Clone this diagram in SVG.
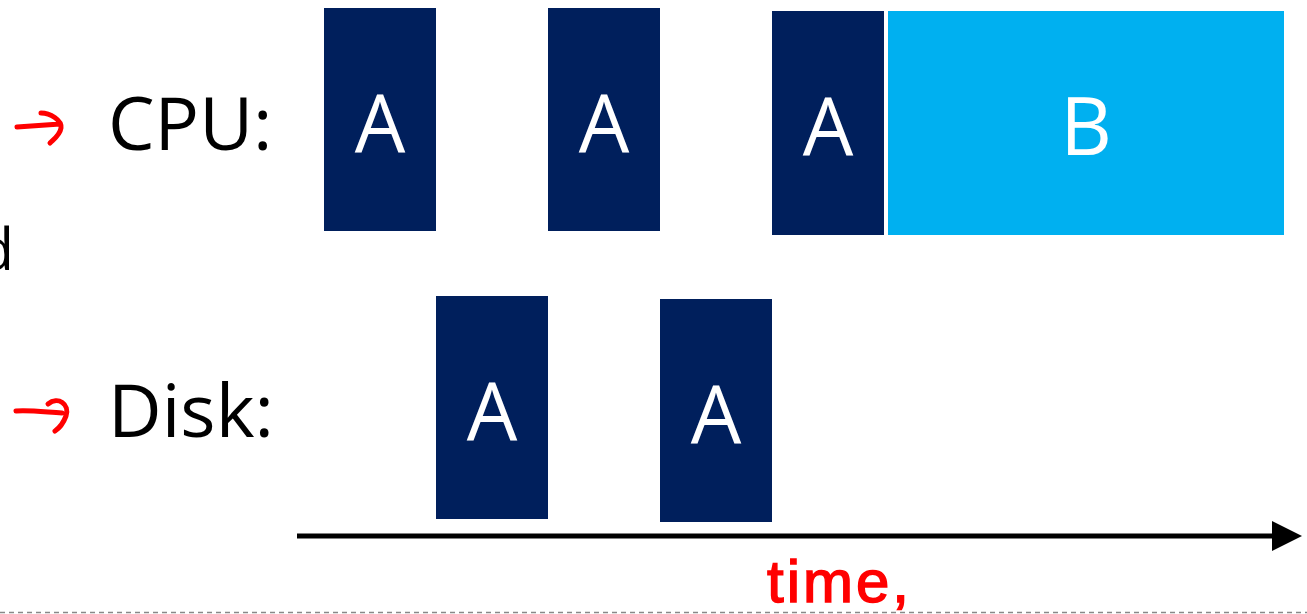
<svg xmlns="http://www.w3.org/2000/svg" width="1307" height="614" viewBox="0 0 1307 614">
<style>
.lbl{font-family:"Open Sans","Liberation Sans",sans-serif;font-size:74px;fill:#000}
.dark{fill:#001f5c}
.light{fill:#00b0f0}
.w{font-family:"Open Sans","Liberation Sans",sans-serif;font-size:80px;fill:#fff;text-anchor:middle}
.ink{fill:none;stroke:#ff0000;stroke-width:5;stroke-linecap:round;stroke-linejoin:round}
</style>
<defs>
<marker id="ah" markerWidth="6" markerHeight="6" refX="0" refY="3" orient="auto" markerUnits="strokeWidth"><path d="M0,0 L6,3 L0,6 Z" fill="#000"/></marker>
</defs>
<rect width="1307" height="614" fill="#fff"/>
<text x="14" y="270" text-anchor="end" font-family="'Open Sans','Liberation Sans',sans-serif" font-size="58" fill="#000">d</text>
<g id="label-cpu"><text class="lbl" x="108" y="150">CPU:</text></g>
<g id="label-disk"><text class="lbl" x="108" y="437">Disk:</text></g>
<g id="cpu-a1"><rect class="dark" x="324" y="8" width="112" height="223"/><text class="w" x="380" y="152">A</text></g>
<g id="cpu-a2"><rect class="dark" x="548" y="8" width="112" height="223"/><text class="w" x="604" y="152">A</text></g>
<g id="cpu-a3"><rect class="dark" x="772" y="11" width="112" height="224"/><text class="w" x="828" y="155">A</text></g>
<g id="cpu-b"><rect class="light" x="888" y="11" width="396" height="224"/><text class="w" x="1086" y="155">B</text></g>
<g id="disk-a1"><rect class="dark" x="436" y="296" width="112" height="223"/><text class="w" x="492" y="440">A</text></g>
<g id="disk-a2"><rect class="dark" x="660" y="299" width="112" height="223"/><text class="w" x="716" y="443">A</text></g>
<g id="connectors">
<line x1="297" y1="536" x2="1272" y2="536" stroke="#000" stroke-width="5" marker-end="url(#ah)"/>
</g>
<g id="ink">
<path class="ink" d="M17,127 C30,126 45,125 60,124 M41,113 C50,113 62,120 61,128 C60,135 54,139 50,143"/>
<path class="ink" d="M16,411 C30,410 45,412 62,413 M48,404 C58,396 70,404 66,416 C63,424 58,429 55,431"/>
<text x="767" y="602" font-family="'Liberation Sans',sans-serif" font-size="60" fill="#ff0000" stroke="#ff0000" stroke-width="1.5" letter-spacing="3">time,</text>
</g>
<line x1="0" y1="612.5" x2="1307" y2="612.5" stroke="#888" stroke-width="1.5" stroke-dasharray="5,4"/>
</svg>
